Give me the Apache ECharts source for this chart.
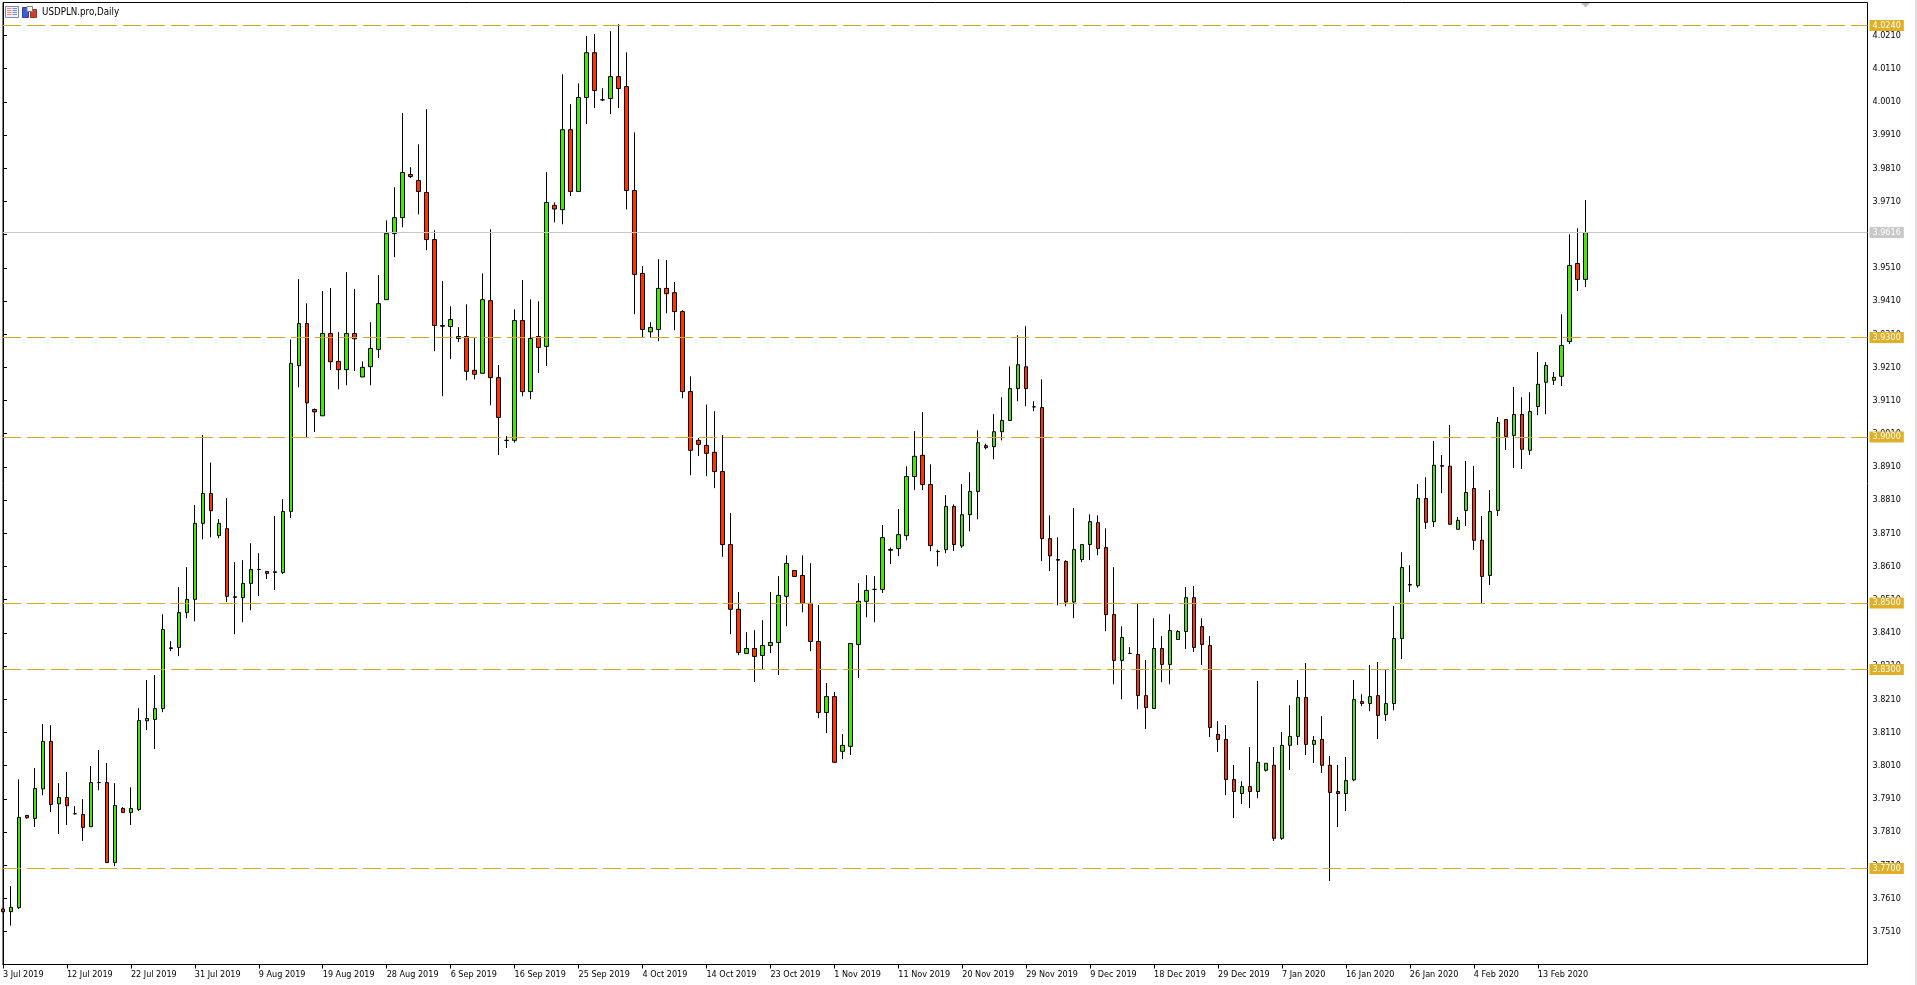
<!DOCTYPE html>
<html><head><meta charset="utf-8"><title>USDPLN.pro,Daily</title>
<style>html,body{margin:0;padding:0;background:#fff;overflow:hidden}#c{width:1917px;height:985px}</style>
<script src="https://cdn.jsdelivr.net/npm/echarts@6/dist/echarts.min.js"></script>
</head><body><div id="c"></div>
<script>
const symbolName = 'USDPLN.pro,Daily';
const dateLabels = ['3 Jul 2019','12 Jul 2019','22 Jul 2019','31 Jul 2019','9 Aug 2019','19 Aug 2019','28 Aug 2019','6 Sep 2019','16 Sep 2019','25 Sep 2019','4 Oct 2019','14 Oct 2019','23 Oct 2019','1 Nov 2019','11 Nov 2019','20 Nov 2019','29 Nov 2019','9 Dec 2019','18 Dec 2019','29 Dec 2019','7 Jan 2020','16 Jan 2020','26 Jan 2020','4 Feb 2020','13 Feb 2020'];
const dateTickIndexes = [0,8,16,24,32,40,48,56,64,72,80,88,96,104,112,120,128,136,144,152,160,168,176,184,192];
const priceTicks = [3.751,3.761,3.771,3.781,3.791,3.801,3.811,3.821,3.831,3.841,3.851,3.861,3.871,3.881,3.891,3.901,3.911,3.921,3.931,3.941,3.951,3.961,3.971,3.981,3.991,4.001,4.011,4.021];
const levelLines = [4.024,3.93,3.9,3.85,3.83,3.77];
const lastPrice = 3.9616;

const opens = [3.7578,3.7570,3.7582,3.7860,3.7851,3.7940,3.8083,3.7895,3.7914,3.7865,3.7863,3.7826,3.7959,3.7959,3.7718,3.7881,3.7869,3.7878,3.8145,3.8149,
3.8182,3.8365,3.8366,3.8471,3.8511,3.8740,3.8830,3.8703,3.8724,3.8519,3.8516,3.8559,3.8601,3.8595,3.8594,3.8592,3.8776,3.9215,3.9342,3.9083,
3.9064,3.9312,3.9228,3.9203,3.9312,3.9181,3.9212,3.9264,3.9414,3.9613,3.9661,3.9791,3.9773,3.9737,3.9595,3.9336,3.9333,3.9297,3.9303,3.9201,
3.9192,3.9411,3.9179,3.8990,3.8990,3.9351,3.9137,3.9303,3.9273,3.9698,3.9685,3.9926,3.9740,4.0023,4.0158,4.0016,4.0020,4.0086,4.0056,3.9743,
3.9493,3.9317,3.9324,3.9448,3.9435,3.9378,3.9137,3.8990,3.8975,3.8954,3.8896,3.8676,3.8481,3.8348,3.8363,3.8342,3.8372,3.8381,3.8520,3.8598,
3.8583,3.8499,3.8384,3.8170,3.8218,3.8053,3.8068,3.8375,3.8505,3.8541,3.8541,3.8661,3.8664,3.8703,3.8881,3.8945,3.8857,3.8655,3.8661,3.8791,
3.8672,3.8766,3.8836,3.8974,3.8971,3.9016,3.9050,3.9146,3.9212,3.9091,3.9089,3.8694,3.8631,3.8625,3.8503,3.8631,3.8676,3.8742,3.8667,3.8465,
3.8327,3.8348,3.8345,3.8221,3.8182,3.8363,3.8315,3.8390,3.8414,3.8516,3.8429,3.8372,3.8104,3.8089,3.7968,3.7926,3.7947,3.7932,3.7996,3.8011,
3.7791,3.8071,3.8098,3.8215,3.8074,3.8089,3.8011,3.7932,3.7926,3.7967,3.8203,3.8197,3.8221,3.8164,3.8197,3.8393,3.8556,3.8552,3.8815,3.8745,
3.8914,3.8912,3.8722,3.8779,3.8845,3.8689,3.8583,3.8779,3.9053,3.9005,3.9068,3.8960,3.9092,3.9165,3.9171,3.9183,3.9288,3.9523,3.9475];
const closes = [3.7570,3.7583,3.7854,3.7853,3.7941,3.8083,3.7893,3.7914,3.7889,3.7865,3.7824,3.7959,3.7959,3.7718,3.7890,3.7869,3.7881,3.8146,3.8152,3.8182,
3.8420,3.8363,3.8471,3.8511,3.8740,3.8830,3.8778,3.8740,3.8520,3.8517,3.8559,3.8601,3.8601,3.8589,3.8592,3.8776,3.9222,3.9342,3.9103,3.9076,
3.9312,3.9227,3.9203,3.9312,3.9296,3.9210,3.9267,3.9402,3.9613,3.9661,3.9797,3.9785,3.9740,3.9595,3.9336,3.9334,3.9354,3.9303,3.9198,3.9189,
3.9414,3.9179,3.9059,3.8990,3.9351,3.9137,3.9297,3.9270,3.9707,3.9687,3.9926,3.9740,4.0023,4.0158,4.0044,4.0016,4.0086,4.0050,3.9743,3.9490,
3.9324,3.9330,3.9448,3.9432,3.9378,3.9137,3.8960,3.8978,3.8951,3.8896,3.8676,3.8481,3.8351,3.8363,3.8339,3.8372,3.8381,3.8523,3.8619,3.8580,
3.8499,3.8384,3.8170,3.8218,3.8020,3.8071,3.8378,3.8505,3.8538,3.8541,3.8697,3.8659,3.8706,3.8881,3.8942,3.8857,3.8673,3.8655,3.8791,3.8676,
3.8766,3.8836,3.8983,3.8968,3.9016,3.9050,3.9146,3.9218,3.9146,3.9091,3.8694,3.8642,3.8629,3.8503,3.8661,3.8676,3.8745,3.8664,3.8465,3.8327,
3.8396,3.8348,3.8221,3.8185,3.8363,3.8315,3.8417,3.8414,3.8516,3.8366,3.8375,3.8125,3.8089,3.7968,3.7932,3.7947,3.7932,3.8020,3.8017,3.7791,
3.8071,3.8098,3.8215,3.8074,3.8086,3.8011,3.7929,3.7926,3.7965,3.8209,3.8197,3.8218,3.8161,3.8197,3.8393,3.8607,3.8554,3.8815,3.8743,3.8915,
3.8912,3.8737,3.8749,3.8833,3.8689,3.8580,3.8776,3.9044,3.9002,3.9068,3.8963,3.9077,3.9159,3.9216,3.9180,3.9276,3.9517,3.9475,3.9616];
const lows = [3.7568,3.7528,3.7578,3.7850,3.7825,3.7921,3.7870,3.7804,3.7831,3.7863,3.7783,3.7826,3.7936,3.7718,3.7707,3.7868,3.7831,3.7873,3.8117,3.8060,
3.8171,3.8355,3.8340,3.8454,3.8445,3.8692,3.8698,3.8695,3.8503,3.8406,3.8442,3.8478,3.8521,3.8572,3.8539,3.8587,3.8756,3.9150,3.9000,3.9015,
3.9064,3.9202,3.9144,3.9156,3.9199,3.9181,3.9156,3.9238,3.9414,3.9542,3.9632,3.9780,3.9671,3.9563,3.9259,3.9123,3.9235,3.9286,3.9171,3.9174,
3.9192,3.9096,3.8946,3.8967,3.8983,3.9123,3.9114,3.9193,3.9214,3.9647,3.9641,3.9726,3.9740,3.9943,3.9991,4.0012,3.9973,3.9991,3.9686,3.9370,
3.9300,3.9300,3.9289,3.9373,3.9322,3.9117,3.8885,3.8943,3.8882,3.8846,3.8639,3.8406,3.8343,3.8348,3.8262,3.8300,3.8349,3.8283,3.8430,3.8580,
3.8472,3.8355,3.8153,3.8108,3.8020,3.8030,3.8042,3.8274,3.8457,3.8442,3.8530,3.8617,3.8641,3.8689,3.8841,3.8840,3.8656,3.8611,3.8650,3.8657,
3.8666,3.8716,3.8752,3.8963,3.8933,3.8990,3.9050,3.9108,3.9093,3.9078,3.8626,3.8596,3.8493,3.8490,3.8454,3.8623,3.8629,3.8644,3.8415,3.8255,
3.8210,3.8348,3.8180,3.8120,3.8182,3.8261,3.8255,3.8390,3.8361,3.8352,3.8313,3.8096,3.8051,3.7921,3.7852,3.7894,3.7882,3.7912,3.7992,3.7783,
3.7786,3.7997,3.8072,3.8042,3.8018,3.7988,3.7662,3.7825,3.7873,3.7963,3.8189,3.8174,3.8090,3.8144,3.8177,3.8331,3.8533,3.8546,3.8723,3.8729,
3.8831,3.8737,3.8722,3.8732,3.8660,3.8497,3.8554,3.8762,3.8961,3.8907,3.8904,3.8946,3.9066,3.9069,3.9157,3.9154,3.9280,3.9440,3.9452];
const highs = [3.7580,3.7647,3.7969,3.7861,3.8003,3.8135,3.8132,3.7957,3.7991,3.7888,3.7909,3.8009,3.8057,3.8018,3.7957,3.7885,3.7945,3.8183,3.8268,3.8283,
3.8466,3.8385,3.8548,3.8608,3.8795,3.9006,3.8923,3.8753,3.8816,3.8623,3.8629,3.8680,3.8650,3.8596,3.8762,3.8813,3.9294,3.9476,3.9403,3.9086,
3.9440,3.9449,3.9316,3.9497,3.9446,3.9228,3.9346,3.9488,3.9653,3.9753,3.9976,3.9813,3.9882,3.9988,3.9623,3.9470,3.9394,3.9331,3.9400,3.9298,
3.9493,3.9626,3.9217,3.9003,3.9385,3.9473,3.9415,3.9409,3.9798,3.9707,4.0093,4.0003,4.0066,4.0208,4.0214,4.0051,4.0223,4.0244,4.0159,3.9918,
3.9515,3.9346,3.9536,3.9533,3.9467,3.9382,3.9183,3.8997,3.9098,3.9078,3.9006,3.8771,3.8533,3.8412,3.8418,3.8448,3.8533,3.8581,3.8644,3.8598,
3.8644,3.8620,3.8494,3.8259,3.8232,3.8105,3.8378,3.8560,3.8584,3.8581,3.8735,3.8667,3.8783,3.8912,3.9018,3.9075,3.8918,3.8661,3.8825,3.8797,
3.8858,3.8894,3.9020,3.8980,3.9069,3.9120,3.9213,3.9307,3.9334,3.9108,3.9174,3.8764,3.8698,3.8629,3.8786,3.8676,3.8767,3.8764,3.8725,3.8608,
3.8430,3.8367,3.8499,3.8328,3.8454,3.8400,3.8466,3.8418,3.8548,3.8551,3.8454,3.8400,3.8144,3.8132,3.8012,3.7963,3.8066,3.8265,3.8017,3.8066,
3.8111,3.8192,3.8268,3.8319,3.8099,3.8159,3.8039,3.8012,3.8036,3.8268,3.8225,3.8313,3.8322,3.8298,3.8491,3.8653,3.8614,3.8858,3.8879,3.8988,
3.8946,3.9036,3.8759,3.8928,3.8913,3.8762,3.8840,3.9060,3.9053,3.9151,3.9120,3.9135,3.9256,3.9226,3.9196,3.9370,3.9611,3.9629,3.9714];

const font = '"DejaVu Sans Condensed","DejaVu Sans",sans-serif';
const gold = '#DAA520', grey = '#C8C8C8';
const tag = (color, textColor) => ({
  show:true, position:'end', distance:2, color:textColor, backgroundColor:color,
  fontFamily:font, fontSize:9, lineHeight:11, height:11, padding:[0,3,0,3],
  formatter:p=>p.value.toFixed(4)
});
const rect=(x,y,w,h,fill,stroke)=>({type:'rect',silent:true,shape:{x,y,width:w,height:h},style:{fill,stroke:stroke||null,lineWidth:stroke?1:0}});
const chart = echarts.init(document.getElementById('c'),null,{renderer:'canvas'});
chart.setOption({
  animation:false, backgroundColor:'#fff',
  title:{text:symbolName,left:42,top:6,padding:0,textStyle:{fontFamily:font,fontSize:9.7,fontWeight:'normal',color:'#000',lineHeight:13}},
  grid:{show:true,left:1.5,top:2.5,width:1866,height:962,borderColor:'#000',borderWidth:1,backgroundColor:'#fff',containLabel:false},
  xAxis:{type:'value',min:0,max:233.25,position:'bottom',splitLine:{show:false},
    axisLine:{show:true,lineStyle:{color:'#000',width:1}},
    axisTick:{show:true,length:4,lineStyle:{color:'#000',width:1},customValues:dateTickIndexes},
    axisLabel:{show:true,customValues:dateTickIndexes,align:'left',margin:6,color:'#000',fontFamily:font,fontSize:9,
      formatter:v=>dateLabels[dateTickIndexes.indexOf(v)]||''}},
  yAxis:{type:'value',position:'right',min:3.74108,max:4.03093,scale:true,splitLine:{show:false},
    axisLine:{show:true,lineStyle:{color:'#000',width:1}},
    axisTick:{show:true,length:4,lineStyle:{color:'#000',width:1},customValues:priceTicks},
    axisLabel:{show:true,customValues:priceTicks,margin:5,padding:[2,0,0,0],color:'#000',fontFamily:font,fontSize:9,formatter:v=>v.toFixed(4)}},
  series:[{
    type:'candlestick',barWidth:4,clip:true,
    encode:{x:0,y:[1,2,3,4]},
    data:opens.map((o,i)=>[i,o,closes[i],lows[i],highs[i]]),
    itemStyle:{color:'#44E800',color0:'#FF3300',borderColor:'#000',borderColor0:'#000',borderColorDoji:'#000',borderWidth:1},
    markLine:{silent:true,symbol:'none',precision:4,animation:false,
      data:[
        ...levelLines.map(v=>({yAxis:v,lineStyle:{color:gold,width:1,type:[18,6]},label:tag('#E0AF26','#fff')})),
        {yAxis:lastPrice,lineStyle:{color:grey,width:1,type:'solid'},label:tag(grey,'#fff')}
      ]}
  }],
  graphic:[
    rect(1915,0,2,985,'#E4E0DC'),
    {type:'polygon',silent:true,shape:{points:[[1581,3],[1590,3],[1585.5,7.5]]},style:{fill:'#C0C0C0'}},
    rect(5.5,6.5,13,11,'#F4F4FA','#7C88B8'),
    rect(7,8,4.5,1,'#F28A7A'),rect(7,10,4.5,1,'#F28A7A'),rect(7,12,4.5,1,'#F28A7A'),rect(7,14,4.5,1,'#F28A7A'),
    rect(12.5,8,4.5,1,'#6E8AD8'),rect(12.5,10,4.5,1,'#6E8AD8'),rect(12.5,12,4.5,1,'#6E8AD8'),rect(12.5,14,4.5,1,'#6E8AD8'),
    rect(22.5,7.5,6,10,'#3B5BD9','#2A3FA8'),rect(30.5,9.5,6,8,'#D0402E','#A03020'),
    rect(27,6.5,5.5,5,'#FFFFFF','#808080')
  ]
});
</script></body></html>
